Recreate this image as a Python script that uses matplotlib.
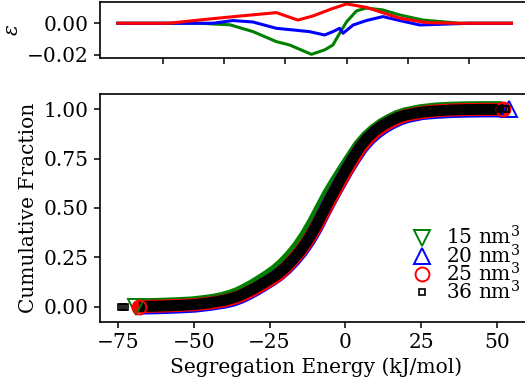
import matplotlib
matplotlib.use("Agg")
import matplotlib.pyplot as plt
import matplotlib.transforms as mtransforms

plt.rcParams['font.family'] = 'DejaVu Serif'
plt.rcParams['mathtext.fontset'] = 'dejavuserif'
plt.rcParams['font.size'] = 14.5

# cumulative fraction vs segregation energy (kJ/mol)
energy = [-68, -60, -55, -50, -45, -42.5, -40, -37.5, -35, -32.5, -30, -27.5, -25,
          -22.5, -20, -17.5, -15, -12.5, -10, -7.5, -5, -2.5, 0, 2.5, 5, 7.5, 10,
          12.5, 15, 17.5, 20, 25, 30, 35, 40, 45, 52]
cdf_36 = [0.0, 0.003, 0.006, 0.01, 0.019, 0.025, 0.032, 0.042, 0.055, 0.073, 0.093,
          0.115, 0.138, 0.163, 0.195, 0.235, 0.28, 0.335, 0.40, 0.475, 0.55, 0.62,
          0.69, 0.755, 0.815, 0.86, 0.895, 0.922, 0.943, 0.96, 0.972, 0.986, 0.993,
          0.997, 0.999, 1.0, 1.0]
cdf_15 = [0.0, 0.003, 0.006, 0.01, 0.019, 0.025, 0.033, 0.044, 0.058, 0.077, 0.098,
          0.122, 0.147, 0.174, 0.208, 0.249, 0.296, 0.353, 0.419, 0.492, 0.564, 0.628,
          0.689, 0.748, 0.806, 0.851, 0.886, 0.914, 0.936, 0.955, 0.968, 0.984, 0.993,
          0.997, 0.999, 1.0, 1.0]
cdf_20 = [0.0, 0.003, 0.006, 0.01, 0.019, 0.025, 0.031, 0.040, 0.054, 0.072, 0.093,
          0.116, 0.140, 0.166, 0.199, 0.239, 0.285, 0.340, 0.406, 0.482, 0.556, 0.625,
          0.693, 0.756, 0.813, 0.857, 0.891, 0.918, 0.940, 0.958, 0.971, 0.987, 0.993,
          0.997, 0.999, 1.0, 1.0]
cdf_25 = [0.0, 0.003, 0.006, 0.009, 0.017, 0.022, 0.029, 0.038, 0.051, 0.068, 0.088,
          0.109, 0.132, 0.156, 0.19, 0.232, 0.277, 0.331, 0.394, 0.466, 0.540, 0.609,
          0.678, 0.744, 0.805, 0.851, 0.887, 0.915, 0.937, 0.955, 0.969, 0.984, 0.993,
          0.997, 0.999, 1.0, 1.0]

# extreme points that stick out of the bands
ends_15 = ([-69], [0.0])
ends_20 = ([54], [1.0])
ends_25 = ([-68, 52], [0.0, 1.0])
ends_36 = ([-74.0, -73.2, -72.5, 51.0, 52.0, 53.0], [0, 0, 0, 1.0, 1.0, 1.0])

# epsilon (difference to 36 nm^3)
eps_x_15 = [-74.6, -58, -48, -38, -30.5, -22.9, -18.6, -11.5, -7.2, -4.5, -2.3, 0,
            3.2, 6.4, 11.8, 17.3, 24.9, 36.8, 53.7]
eps_15 = [0, 0, 0, -0.001, -0.0053, -0.0116, -0.0137, -0.0196, -0.0168, -0.0137,
          -0.0063, 0.001, 0.0078, 0.0096, 0.0084, 0.0052, 0.002, 0.0, 0.0]
eps_x_20 = [-74.6, -58, -43.6, -37.1, -30.6, -22.9, -17.6, -12.1, -7.2, -4.5, -2.3,
            -1.2, 2.1, 6.4, 11.8, 17.3, 23.8, 31.4, 40, 53.7]
eps_20 = [0, 0, 0.0, 0.0017, 0.0008, -0.0032, -0.0042, -0.0053, -0.0074, -0.0053,
          -0.0032, -0.0063, -0.0011, 0.0017, 0.0042, 0.0017, -0.0011, -0.0006, 0.0, 0.0]
eps_x_25 = [-74.6, -58, -45.7, -35, -22.9, -15.9, -11, -5, 0, 6.4, 17.3, 26, 35, 53.7]
eps_25 = [0, 0, 0.0025, 0.0045, 0.0067, 0.002, 0.0046, 0.009, 0.0122, 0.010,
          0.0032, 0.0004, 0.0, 0.0]

fig = plt.figure(figsize=(5.25, 3.91), dpi=100)
ax_e = fig.add_axes([0.1905, 0.8517, 0.8229, 0.1432])
ax = fig.add_axes([0.1905, 0.1765, 0.8229, 0.5831])

for a in (ax_e, ax):
    for s in a.spines.values():
        s.set_linewidth(1.2)
    a.tick_params(direction='out', length=4.5, width=1.1)

# top panel
ax_e.plot(eps_x_15, eps_15, color='green', lw=2.2)
ax_e.plot(eps_x_20, eps_20, color='blue', lw=2.2)
ax_e.plot(eps_x_25, eps_25, color='red', lw=2.2)
ax_e.set_xlim(-80.4, 60.4)
ax_e.set_ylim(-0.0219, 0.0134)
ax_e.set_xticks([-60, -40, -20, 0, 20, 40])
ax_e.set_yticks([-0.02, 0.0])
ax_e.set_yticklabels(['\u22120.02', '0.00'])
ax_e.tick_params(labelbottom=False)
ax_e.set_ylabel(r'$\epsilon$')

# bottom panel: bands
shift_ul = mtransforms.ScaledTranslation(-1.3 / 100, 1.3 / 100, fig.dpi_scale_trans)
shift_lr = mtransforms.ScaledTranslation(1.1 / 100, -1.1 / 100, fig.dpi_scale_trans)
ax.plot(energy, cdf_15, color='green', lw=10.0, solid_capstyle='butt',
        transform=ax.transData + shift_ul)
ax.plot(energy, cdf_20, color='blue', lw=10.0, solid_capstyle='butt',
        transform=ax.transData + shift_lr)
ax.plot(energy, cdf_25, color='red', lw=9.4, solid_capstyle='round')
ax.plot(energy, cdf_36, color='black', lw=7.9, solid_capstyle='butt')

ax.plot(*ends_15, ls='none', marker='v', ms=11, mfc='none', mec='green', mew=1.4,
        label='15 nm$^3$')
ax.plot(*ends_20, ls='none', marker='^', ms=11, mfc='none', mec='blue', mew=1.4,
        label='20 nm$^3$')
ax.plot(*ends_25, ls='none', marker='o', ms=10, mfc='none', mec='red', mew=1.4,
        label='25 nm$^3$')
ax.plot(*ends_36, ls='none', marker='s', ms=4.5, mfc='none', mec='black', mew=1.2,
        label='36 nm$^3$')

ax.set_xlim(-80.9, 61.5)
ax.set_ylim(-0.078, 1.078)
ax.set_xticks([-75, -50, -25, 0, 25, 50])
ax.set_xticklabels(['\u221275', '\u221250', '\u221225', '0', '25', '50'])
ax.set_yticks([0, 0.25, 0.5, 0.75, 1.0])
ax.set_yticklabels(['0.00', '0.25', '0.50', '0.75', '1.00'])
ax.set_xlabel('Segregation Energy (kJ/mol)')
ax.set_ylabel('Cumulative Fraction')
ax.legend(loc='lower right', bbox_to_anchor=(1.005, 0.02), frameon=False,
          labelspacing=-0.25, handletextpad=0.2, borderaxespad=0.3)

fig.savefig('out.png', dpi=100)
